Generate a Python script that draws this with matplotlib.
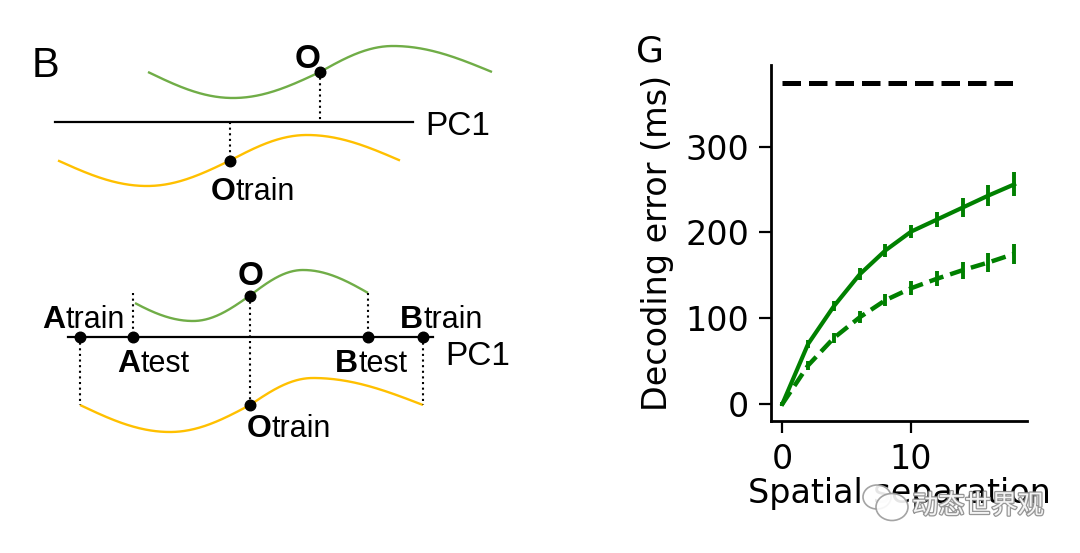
import numpy as np
import matplotlib
matplotlib.use("Agg")
import matplotlib.pyplot as plt
from matplotlib import patheffects as pe
from matplotlib.patches import Ellipse

# ---------------- Panel G data ----------------
separation = [0, 2, 4, 6, 8, 10, 12, 14, 16, 18]
error_solid = [0, 70, 114, 151, 179, 201, 215, 229, 243, 256]
sem_solid = [2, 5, 6, 7, 8, 8, 9, 11, 12, 14]
error_dashed = [0, 45, 77, 101, 121, 135, 146, 156, 165, 175]
sem_dashed = [2, 5, 6, 7, 7, 8, 9, 10, 11, 12]
chance_x = [0, 18]
chance_y = [374, 374]
yticks = [0, 100, 200, 300]
xticks = [0, 10]
ylabel = "Decoding error (ms)"
xlabel = "Spatial separation"

# ---------------- Panel B schematic (figure pixel coordinates) ----------------
PI = np.pi
wave_phases = [-0.5 * PI, 0, 0.5 * PI, PI, 1.5 * PI]
top_green_x = [148, 233, 320, 393, 492]
top_yellow_x = [58, 147, 230, 307, 400]
bot_green_x = [135, 193, 250, 303, 368]
bot_green_phases = [-1.27, 0, 0.5 * PI, PI, PI + 1.47]
bot_yellow_x = [80, 170, 250, 313, 423]

GREEN_S = "#70AD47"
GOLD_S = "#FFC000"
SFONT = "Liberation Sans"

fig = plt.figure(figsize=(10.8, 5.53), dpi=100)
fig.patch.set_facecolor("white")

# ---- schematic axes (pixel space) ----
sx = fig.add_axes([0, 0, 1, 1])
sx.set_xlim(0, 1080)
sx.set_ylim(553, 0)
sx.axis("off")


def wave(ax, kx, kp, c, A, color):
    x = np.linspace(kx[0], kx[-1], 400)
    phi = np.interp(x, kx, kp)
    y = c + A * np.cos(phi)
    ax.plot(x, y, color=color, lw=1.7, solid_capstyle="butt")
    return lambda xx: c + A * np.cos(np.interp(xx, kx, kp))


dot_kw = dict(marker="o", ms=7.6, color="black", ls="none", zorder=5)
dotted_kw = dict(color="black", lw=1.5, ls=(0, (1, 1.7)), zorder=3)


def label(ax, x, y, letter, suffix, s1, s2):
    t = ax.text(x, y, letter, fontsize=s1, fontweight="bold", family=SFONT,
                ha="left", va="baseline", zorder=6)
    if suffix:
        ax.annotate(suffix, xy=(1, 0), xycoords=t, fontsize=s2, family=SFONT,
                    ha="left", va="bottom", zorder=6)


# top sub-panel
g1 = wave(sx, top_green_x, wave_phases, 72, 26, GREEN_S)
y1 = wave(sx, top_yellow_x, wave_phases, 160.5, 25.5, GOLD_S)
pc_top = 122
sx.plot([55, 413], [pc_top, pc_top], color="black", lw=1.6)
xo = top_green_x[2]
xt = top_yellow_x[2]
sx.plot([xo, xo], [g1(xo), pc_top], **dotted_kw)
sx.plot([xt, xt], [pc_top, y1(xt)], **dotted_kw)
sx.plot([xo, xt], [g1(xo), y1(xt)], **dot_kw)
sx.text(425, 135, "PC1", fontsize=24, family=SFONT, ha="left", va="baseline")
sx.text(32, 77, "B", fontsize=30, family=SFONT, ha="left", va="baseline")
label(sx, 295, 68, "O", None, 24, 0)
label(sx, 211, 200, "O", "train", 23, 22)

# bottom sub-panel
g2 = wave(sx, bot_green_x, bot_green_phases, 295.5, 25.5, GREEN_S)
y2 = wave(sx, bot_yellow_x, wave_phases, 405, 27, GOLD_S)
pc_bot = 337
sx.plot([68, 433], [pc_bot, pc_bot], color="black", lw=1.6)
xA_test, xB_test = bot_green_x[0] - 2, bot_green_x[-1]
xA_train, xB_train = bot_yellow_x[0], bot_yellow_x[-1]
xo2 = bot_green_x[2]
sx.plot([xA_test, xA_test], [g2(bot_green_x[0]) - 10, pc_bot], **dotted_kw)
sx.plot([xB_test, xB_test], [g2(xB_test), pc_bot], **dotted_kw)
sx.plot([xo2, xo2], [g2(xo2), y2(xo2)], **dotted_kw)
sx.plot([xA_train, xA_train], [pc_bot, y2(xA_train)], **dotted_kw)
sx.plot([xB_train, xB_train], [pc_bot, y2(xB_train)], **dotted_kw)
sx.plot([xA_train, xA_test, xB_test, xB_train], [pc_bot] * 4, **dot_kw)
sx.plot([xo2, xo2], [g2(xo2), y2(xo2)], **dot_kw)
sx.text(445, 365, "PC1", fontsize=24, family=SFONT, ha="left", va="baseline")
label(sx, 238, 285, "O", None, 24, 0)
label(sx, 42, 328, "A", "train", 23, 22)
label(sx, 117, 372, "A", "test", 23, 22)
label(sx, 335, 372, "B", "test", 23, 22)
label(sx, 400, 328, "B", "train", 23, 22)
label(sx, 247, 437, "O", "train", 23, 22)

# ---- Panel G axes ----
L, R, T, B = 771, 1027, 65, 421
ax = fig.add_axes([L / 1080, 1 - B / 553, (R - L) / 1080, (B - T) / 553])
ax.plot(chance_x, chance_y, color="black", lw=3.6, ls=(0, (3.7, 1.6)))
ax.errorbar(separation, error_solid, yerr=sem_solid, color="green", lw=3,
            elinewidth=2.8, capsize=0)
ax.errorbar(separation, error_dashed, yerr=sem_dashed, color="green", lw=3.2,
            ls=(0, (3.3, 1.6)), elinewidth=2.8, capsize=0)
ax.set_xlim(-0.88, 19.0)
ax.set_ylim(-19.8, 395.2)
ax.set_xticks(xticks)
ax.set_yticks(yticks)
for s in ["top", "right"]:
    ax.spines[s].set_visible(False)
for s in ["left", "bottom"]:
    ax.spines[s].set_linewidth(2.0)
ax.tick_params(axis="both", labelsize=24, length=8.6, width=1.6, pad=7)
ax.set_ylabel(ylabel, fontsize=24, labelpad=8)
ax.set_xlabel(xlabel, fontsize=24, labelpad=1)
fig.text(636 / 1080, 1 - 62 / 553, "G", fontsize=26, ha="left", va="baseline")

# ---- watermark overlay ----
wm = fig.add_axes([0, 0, 1, 1], zorder=10)
wm.set_xlim(0, 1080)
wm.set_ylim(553, 0)
wm.axis("off")
wm.patch.set_visible(False)
for (cx, cy, w, h) in [(877, 497, 28, 24), (892, 507, 32, 27)]:
    wm.add_patch(Ellipse((cx, cy), w, h, facecolor="white", edgecolor="#9a9a9a",
                         lw=1.2, alpha=0.9))
wm.text(912, 506, "动态世界观", fontsize=19, family=["Noto Sans CJK SC", "DejaVu Sans"],
        color="white", ha="left", va="center", alpha=0.9,
        path_effects=[pe.withStroke(linewidth=1.8, foreground="#8a8a8a")])

fig.savefig("out.png", dpi=100, facecolor="white")
